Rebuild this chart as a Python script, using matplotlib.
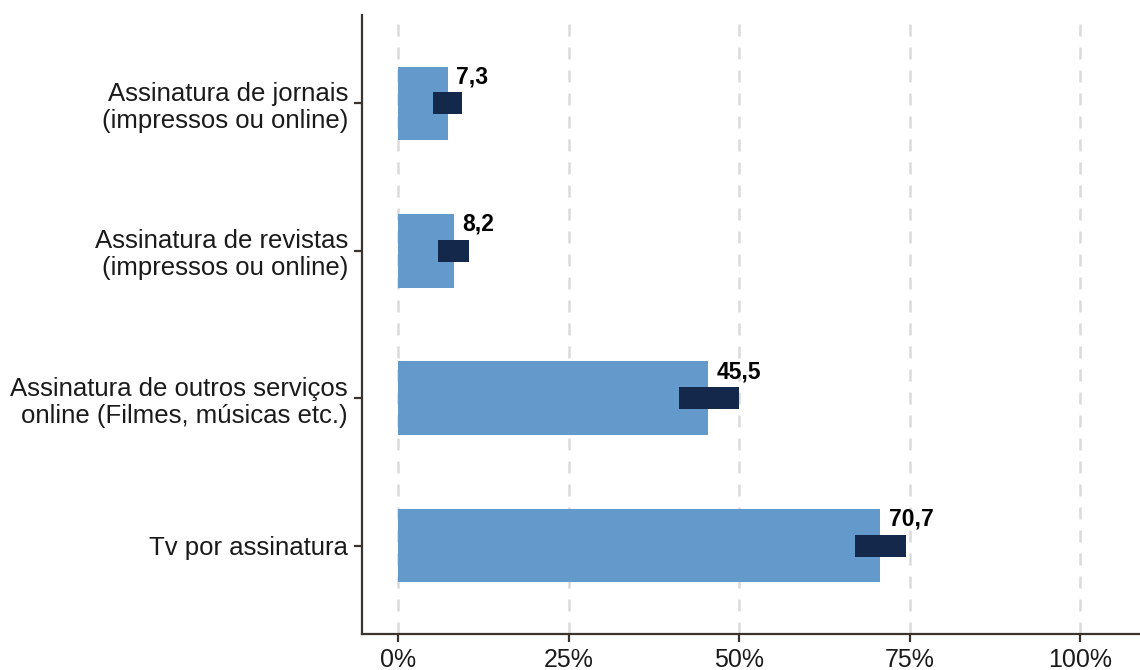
import matplotlib.pyplot as plt

plt.rcParams['font.family'] = ['Liberation Sans', 'DejaVu Sans']

# subscription types, bottom to top
categorias = ['Tv por assinatura',
              'Assinatura de outros serviços\nonline (Filmes, músicas etc.)',
              'Assinatura de revistas\n(impressos ou online)',
              'Assinatura de jornais\n(impressos ou online)']
valores = [70.7, 45.5, 8.2, 7.3]
ic_inf = [67.0, 41.2, 5.9, 5.1]
ic_sup = [74.5, 50.0, 10.4, 9.4]
rotulos = ['70,7', '45,5', '8,2', '7,3']

ticks_x = [0, 25, 50, 75, 100]
ticks_lab = ['0%', '25%', '50%', '75%', '100%']

azul = '#6499cb'
marinho = '#14284b'
eixo = '#3a332e'

fig = plt.figure(figsize=(11.4, 6.7), dpi=100)
ax = fig.add_axes([362 / 1140, 36 / 670, 1 - 362 / 1140, (634 - 15) / 670])

y = list(range(1, len(categorias) + 1))

for t in ticks_x:
    ax.axvline(t, color='#dadada', linestyle=(0, (4.8, 4.4)), linewidth=1.8, zorder=0)

ax.barh(y, valores, height=0.5, color=azul, zorder=2)
ax.barh(y, [s - i for s, i in zip(ic_sup, ic_inf)], left=ic_inf, height=0.15,
        color=marinho, zorder=3)

for yi, v, lab in zip(y, valores, rotulos):
    ax.annotate(lab, (v, yi), xytext=(6, 19), textcoords='offset points',
                ha='left', va='center', fontsize=16.5, fontweight='bold',
                color='black', zorder=4)

ax.set_xlim(-5.3, 108.8)
ax.set_ylim(0.4, 4.6)
ax.set_yticks(y)
ax.set_yticklabels(categorias, fontsize=18.5, color='#1a1a1a', linespacing=1.15)
ax.set_xticks(ticks_x)
ax.set_xticklabels(ticks_lab, fontsize=18, color='#1a1a1a')

for side in ['top', 'right']:
    ax.spines[side].set_visible(False)
for side in ['left', 'bottom']:
    ax.spines[side].set_color(eixo)
    ax.spines[side].set_linewidth(1.6)
ax.tick_params(axis='both', color=eixo, width=1.6, length=6, pad=4)

fig.savefig('out.png', dpi=100)
